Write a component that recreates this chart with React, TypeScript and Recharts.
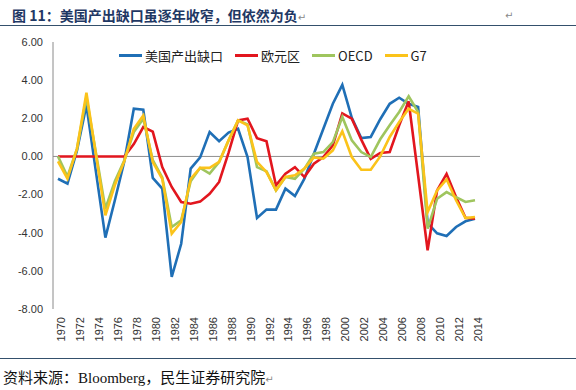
import { LineChart, Line, XAxis, YAxis, ReferenceLine, Legend } from 'recharts'

const YEARS = [
  1970, 1971, 1972, 1973, 1974, 1975, 1976, 1977, 1978, 1979,
  1980, 1981, 1982, 1983, 1984, 1985, 1986, 1987, 1988, 1989,
  1990, 1991, 1992, 1993, 1994, 1995, 1996, 1997, 1998, 1999,
  2000, 2001, 2002, 2003, 2004, 2005, 2006, 2007, 2008, 2009,
  2010, 2011, 2012, 2013, 2014,
]

// 美国产出缺口
const US_GAP = [
  -1.17, -1.43, 0.3, 2.68, -0.8, -4.26, -2.3, -0.25, 2.5, 2.45,
  -1.13, -1.69, -6.32, -4.58, -0.64, -0.05, 1.28, 0.8, 1.25, 1.45,
  -0.03, -3.23, -2.79, -2.79, -1.69, -2.08, -1.17, 0.14, 1.45, 2.76,
  3.75, 2.02, 0.96, 1.02, 1.95, 2.76, 3.08, 2.76, 2.59, -3.5,
  -4.03, -4.17, -3.7, -3.4, -3.27,
]

// 欧元区
const EURO_GAP = [
  0, 0, 0, 0, 0, 0, 0, 0, 0.65, 1.54,
  1.3, -0.56, -1.6, -2.39, -2.48, -2.37, -1.96, -1.34, 0.2, 1.89,
  1.98, 0.96, 0.79, -1.52, -0.9, -0.56, -1.08, -0.38, -0.03, 0.58,
  2.26, 1.98, 0.88, -0.13, 0.18, 0.23, 1.63, 2.89, -1.0, -4.92,
  -1.78, -0.92, -2.13, -3.22, -3.27,
]

const OECD_GAP = [
  0, -1.05, 0.4, 3.1, 0.2, -2.74, -1.3, -0.2, 1.28, 1.98,
  -0.2, -1.1, -3.7, -3.35, -1.3, -0.6, -0.9, -0.29, 0.84, 1.89,
  1.68, -0.56, -0.78, -1.78, -1.08, -1.17, -0.64, 0.14, 0.23, 0.75,
  2.07, 0.84, 0.23, -0.03, 0.9, 1.63, 2.33, 3.15, 2.33, -3.79,
  -2.22, -1.87, -2.13, -2.39, -2.3,
]

const G7_GAP = [
  -0.26, -1.17, 0.4, 3.34, 0.1, -3.09, -1.5, -0.25, 1.45, 2.15,
  -0.3, -1.17, -4.05, -3.44, -1.17, -0.6, -0.6, -0.29, 0.84, 1.89,
  1.63, -0.29, -0.82, -1.78, -1.08, -0.99, -0.64, -0.05, -0.12, 0.32,
  1.32, -0.03, -0.7, -0.7, 0.0, 1.02, 1.8, 2.5, 2.24, -2.92,
  -1.78, -1.2, -2.3, -3.23, -3.18,
]

const Y_TICKS = [-8, -6, -4, -2, 0, 2, 4, 6]

const SERIES = [
  { key: 'us', name: '美国产出缺口', color: '#1F6FB6' },
  { key: 'euro', name: '欧元区', color: '#E2161E' },
  { key: 'oecd', name: 'OECD', color: '#9FC55E' },
  { key: 'g7', name: 'G7', color: '#FBC31A' },
]

const rows = YEARS.map((yr, i) => ({
  year: String(yr),
  us: US_GAP[i],
  euro: EURO_GAP[i],
  oecd: OECD_GAP[i],
  g7: G7_GAP[i],
}))

const SANS = '"Liberation Sans", Arial, sans-serif'
const CJK = '"Noto Sans CJK SC", "Liberation Sans", sans-serif'

function YearTick({ x, payload }: any) {
  return (
    <g transform={`translate(${x},317)`}>
      <text transform="rotate(-90)" textAnchor="end" dy={7} fontSize={11} fill="#333" fontFamily={SANS}>
        {payload.value}
      </text>
    </g>
  )
}

// legend keeps the series order (recharts hands the payload back reversed)
function LegendRow({ payload }: any) {
  const items = SERIES.map((s) => (payload || []).find((p: any) => p.dataKey === s.key) || { value: s.name, color: s.color })
  return (
    <div style={{ display: 'flex', alignItems: 'center', fontFamily: CJK, fontSize: 13, color: '#222', whiteSpace: 'nowrap' }}>
      {items.map((p: any) => (
        <div key={p.value} style={{ display: 'flex', alignItems: 'center', marginRight: 12 }}>
          <span style={{ display: 'inline-block', width: 23, height: 3, background: p.color, marginRight: 3 }} />
          <span>{p.value}</span>
        </div>
      ))}
    </div>
  )
}

export default function App() {
  return (
    <div style={{ position: 'absolute', left: 0, top: 0, width: 576, height: 390, background: '#fff', fontFamily: SANS }}>
      <div style={{ position: 'absolute', left: 12, top: 7, fontFamily: CJK, fontWeight: 700, fontSize: 14, lineHeight: '16px', color: '#1F3864', whiteSpace: 'nowrap' }}>
        图 11：美国产出缺口虽逐年收窄，但依然为负<span style={{ fontWeight: 400, fontSize: 10, color: '#888', fontFamily: '"DejaVu Sans"' }}>↵</span>
      </div>
      <div style={{ position: 'absolute', left: 505, top: 10, fontSize: 10, color: '#888', fontFamily: '"DejaVu Sans"' }}>↵</div>
      <div style={{ position: 'absolute', left: 0, top: 25, width: 576, borderTop: '1.5px solid #34506C' }} />

      <div style={{ position: 'absolute', left: 0, top: 0 }}>
        <LineChart width={576} height={390} data={rows} margin={{ top: 42, right: 96, bottom: 41, left: 8 }}>
          <XAxis
            dataKey="year"
            interval={1}
            tick={<YearTick />}
            axisLine={false}
            tickLine={false}
            height={40}
            padding={{ left: 5, right: 5 }}
          />
          <YAxis
            width={45}
            domain={[-8, 6]}
            ticks={Y_TICKS}
            tickFormatter={(v: number) => v.toFixed(2)}
            axisLine={{ stroke: '#8A8A8A' }}
            tickLine={false}
            tickSize={0}
            tickMargin={10}
            tick={{ fontSize: 11, fill: '#333', fontFamily: SANS }}
          />
          <ReferenceLine y={0} stroke="#8E8E8E" strokeWidth={1} />
          <Legend
            layout="horizontal"
            verticalAlign="middle"
            align="center"
            content={<LegendRow />}
            wrapperStyle={{ position: 'absolute', top: 46, left: 119, width: 420 }}
          />
          {SERIES.map((s) => (
            <Line
              key={s.key}
              type="linear"
              dataKey={s.key}
              name={s.name}
              stroke={s.color}
              strokeWidth={2.6}
              dot={false}
              isAnimationActive={false}
            />
          ))}
        </LineChart>
      </div>

      <div style={{ position: 'absolute', left: 0, top: 358, width: 576, borderTop: '1.5px solid #34506C' }} />
      <div style={{ position: 'absolute', left: 3, top: 370, fontSize: 15, lineHeight: '16px', color: '#111', fontFamily: '"Liberation Serif", "Noto Sans CJK SC", serif', whiteSpace: 'nowrap' }}>
        资料来源：Bloomberg，民生证券研究院<span style={{ fontSize: 10, color: '#888', fontFamily: '"DejaVu Sans"' }}>↵</span>
      </div>
    </div>
  )
}
